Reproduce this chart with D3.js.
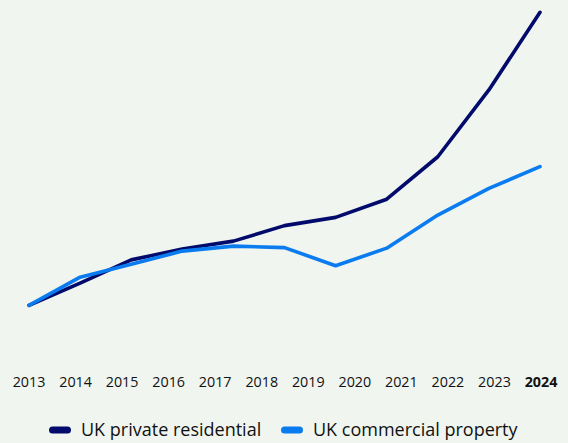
<!DOCTYPE html>
<html>
<head>
<meta charset="utf-8">
<script src="https://cdn.jsdelivr.net/npm/d3@7"></script>
<style>
  html, body { margin: 0; padding: 0; background: #f0f5f0; }
  svg { display: block; }
</style>
</head>
<body>
<svg id="chart" width="568" height="443"></svg>
<script>
// Index values (2013 = 100), one value per period
const periods = [0, 1, 2, 3, 4, 5, 6, 7, 8, 9, 10];
const residential = [100, 107.6, 115.5, 119.2, 121.9, 127.2, 130.0, 136.2, 150.7, 173.5, 200];
const commercial  = [100, 109.6, 114.0, 118.5, 120.2, 119.7, 113.5, 119.5, 130.8, 139.9, 147.3];
const yearLabels = ["2013", "2014", "2015", "2016", "2017", "2018", "2019", "2020", "2021", "2022", "2023", "2024"];
const seriesNames = ["UK private residential", "UK commercial property"];
const seriesColors = ["#020b6b", "#0a7cf0"];

const svg = d3.select("#chart");
const font = "'Open Sans', sans-serif";

const x = d3.scaleLinear().domain([0, 10]).range([29, 540]);
const y = d3.scaleLinear().domain([100, 200]).range([305.3, 12.3]);
const xLabel = d3.scalePoint().domain(yearLabels).range([28.5, 540.5]);

const line = d3.line()
  .x((d, i) => x(periods[i]))
  .y(d => y(d));

[residential, commercial].forEach((series, k) => {
  svg.append("path")
    .datum(series)
    .attr("d", line)
    .attr("fill", "none")
    .attr("stroke", seriesColors[k])
    .attr("stroke-width", 3.6)
    .attr("stroke-linejoin", "round")
    .attr("stroke-linecap", "round");
});

// Year axis labels
const axis = d3.axisBottom(xLabel).tickSize(0).tickPadding(0);
const gAxis = svg.append("g").attr("transform", "translate(0,377)").call(axis);
gAxis.select(".domain").remove();
gAxis.selectAll("text")
  .attr("font-family", font)
  .attr("font-size", 14.3)
  .attr("fill", "#111")
  .attr("font-weight", d => d === "2024" ? 700 : 400);

// Legend
const legendX = [49, 281];
const legend = svg.append("g");
seriesNames.forEach((name, k) => {
  legend.append("rect")
    .attr("x", legendX[k]).attr("y", 426.5)
    .attr("width", 22).attr("height", 7)
    .attr("rx", 3.5)
    .attr("fill", seriesColors[k]);
  legend.append("text")
    .attr("x", legendX[k] + 32).attr("y", 436)
    .attr("font-family", font)
    .attr("font-size", 18)
    .attr("fill", "#111")
    .text(name);
});
</script>
</body>
</html>
